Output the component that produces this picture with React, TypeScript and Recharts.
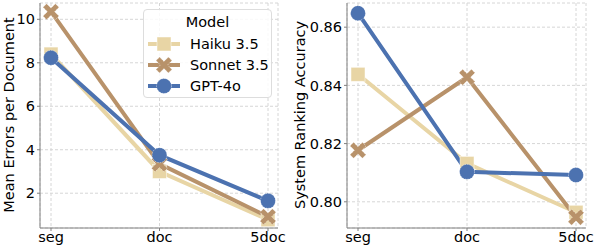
import React from 'react';
import {
  LineChart,
  Line,
  XAxis,
  YAxis,
  CartesianGrid
} from 'recharts';

const categories = ['seg', 'doc', '5doc'];
const models = ['Haiku 3.5', 'Sonnet 3.5', 'GPT-4o'];

const errorsHaiku = [8.4, 3.0, 0.78];
const errorsSonnet = [10.35, 3.35, 0.92];
const errorsGpt = [8.23, 3.75, 1.65];

const accHaiku = [0.8438, 0.8132, 0.7964];
const accSonnet = [0.8177, 0.8428, 0.7947];
const accGpt = [0.8648, 0.8103, 0.8092];

const errorTicks = [2, 4, 6, 8, 10];
const accTicks = [0.8, 0.82, 0.84, 0.86];

const colors = ['#e8d5a5', '#b8926a', '#4c72b0'];
const FONT = 'DejaVu Sans, sans-serif';

const build = (a: number[], b: number[], c: number[]) =>
  categories.map((cat, i) => ({ cat, haiku: a[i], sonnet: b[i], gpt: c[i] }));

const errorData = build(errorsHaiku, errorsSonnet, errorsGpt);
const accData = build(accHaiku, accSonnet, accGpt);

const Square = (props: any) => {
  const { cx, cy } = props;
  if (cx == null || cy == null) return null;
  const s = 7;
  return (
    <rect x={cx - s} y={cy - s} width={s * 2} height={s * 2} fill={colors[0]}
      stroke="#fff" strokeOpacity={0.6} strokeWidth={0.8} />
  );
};

const Cross = (props: any) => {
  const { cx, cy } = props;
  if (cx == null || cy == null) return null;
  const a = 8;
  const w = 3.6;
  const pts = [
    [-a + w, -a], [0, -w], [a - w, -a], [a, -a + w], [w, 0], [a, a - w],
    [a - w, a], [0, w], [-a + w, a], [-a, a - w], [-w, 0], [-a, -a + w]
  ].map(([x, y]) => `${cx + x},${cy + y}`).join(' ');
  return (
    <polygon points={pts} fill={colors[1]} stroke="#fff" strokeOpacity={0.6}
      strokeWidth={0.8} strokeDasharray="1.5 1" />
  );
};

const Circle = (props: any) => {
  const { cx, cy } = props;
  if (cx == null || cy == null) return null;
  return (
    <circle cx={cx} cy={cy} r={7.5} fill={colors[2]} stroke="#fff"
      strokeOpacity={0.6} strokeWidth={0.8} strokeDasharray="1.5 1" />
  );
};

const markers = [Square, Cross, Circle];
const keys = ['haiku', 'sonnet', 'gpt'];

const LegendBox = () => (
  <div
    style={{
      position: 'absolute',
      left: 143,
      top: 9,
      width: 129,
      height: 89,
      border: '1px solid #dddddd',
      borderRadius: 4,
      background: 'rgba(255,255,255,0.85)',
      fontFamily: FONT,
      fontSize: 14.5,
      color: '#000',
      boxSizing: 'border-box'
    }}
  >
    <div style={{ textAlign: 'center', marginTop: 2, height: 21, lineHeight: '21px' }}>Model</div>
    {models.map((m, i) => {
      const M = markers[i];
      return (
        <div key={m} style={{ display: 'flex', alignItems: 'center', height: 21 }}>
          <svg width={36} height={20} style={{ marginLeft: 3 }}>
            <line x1={1} y1={10} x2={33} y2={10} stroke={colors[i]} strokeWidth={4} />
            <M cx={17} cy={10} />
          </svg>
          <span style={{ marginLeft: 7 }}>{m}</span>
        </div>
      );
    })}
  </div>
);

const tickStyle = { fontSize: 14.5, fill: '#000', fontFamily: FONT };

const YLabel = (text: string, x: number) => () => {
  const cy = 115;
  return (
    <text x={x} y={cy} transform={`rotate(-90 ${x} ${cy})`} textAnchor="middle"
      dominantBaseline="central" fontSize={14.5} fontFamily={FONT} fill="#000">
      {text}
    </text>
  );
};

const Panel = ({ data, domain, ticks, fmt, label, yWidth, width, right, labelX }: any) => (
  <LineChart width={width} height={248} data={data}
    margin={{ top: 3, right, bottom: 0, left: 0 }}>
    <CartesianGrid stroke="#d6d6d6" strokeDasharray="3 2" />
    <XAxis dataKey="cat" padding={{ left: 11, right: 10 }} tick={tickStyle}
      tickSize={3} tickMargin={1} height={20} stroke="#808080" interval={0} />
    <XAxis xAxisId="top" orientation="top" dataKey="cat" height={0} tick={false}
      tickLine={false} stroke="#808080" />
    <YAxis type="number" domain={domain} ticks={ticks} allowDataOverflow
      tickFormatter={fmt} tick={tickStyle} tickSize={3} tickMargin={2}
      width={yWidth} stroke="#808080" label={YLabel(label, labelX)} />
    <YAxis yAxisId="right" orientation="right" width={0} tick={false}
      tickLine={false} stroke="#808080" />
    {keys.map((k, i) => (
      <Line key={k} dataKey={k} name={models[i]} stroke={colors[i]} strokeWidth={4}
        dot={markers[i]} activeDot={false} isAnimationActive={false} />
    ))}
  </LineChart>
);

export default function App() {
  return (
    <div style={{ position: 'absolute', left: 0, top: 0, width: 594, height: 248, background: '#fff' }}>
      <div style={{ position: 'absolute', left: 0, top: 0 }}>
        <Panel data={errorData} domain={[0.4, 10.75]} ticks={errorTicks}
          fmt={(v: number) => String(v)} label="Mean Errors per Document"
          yWidth={40} width={290} right={12} labelX={9} />
      </div>
      <div style={{ position: 'absolute', left: 290, top: 0 }}>
        <Panel data={accData} domain={[0.791, 0.8683]} ticks={accTicks}
          fmt={(v: number) => v.toFixed(2)} label="System Ranking Accuracy"
          yWidth={57} width={304} right={8} labelX={10} />
      </div>
      <LegendBox />
    </div>
  );
}
